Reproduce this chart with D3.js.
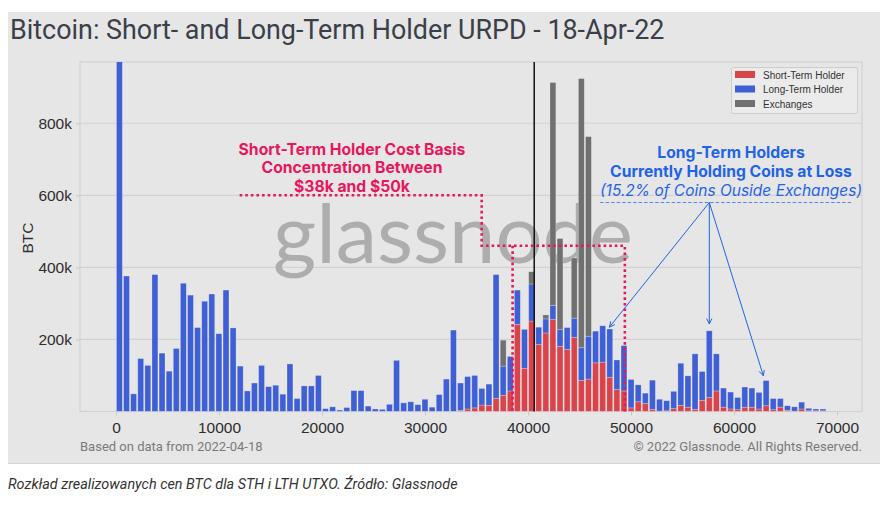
<!DOCTYPE html>
<html>
<head>
<meta charset="utf-8">
<script src="https://cdn.jsdelivr.net/npm/d3@7"></script>
<style>
  html, body { margin: 0; padding: 0; background: #ffffff; }
  svg { display: block; }
</style>
</head>
<body>
<svg id="chart" width="886" height="507"></svg>
<script>
// ---------- DATA (BTC, thousands) ----------
const binWidth = 690;                       // USD per price bucket
const priceBins = d3.range(0, 69000, binWidth); // 100 bucket starts
const sth = [0,0,0,0,0,0,0,0,0,0, 0,0,0,0,0,0,0,0,0,0,
  0,0,0,0,0,0,0,0,0,0, 0,0,0,0,0,0,0,0,0,0,
  0,0,0,0,0,0,0,0,3,7, 10,18,17,36,45,57,242,120,251,186,
  218,255,181,172,206,86,90,135,137,95, 61,57,10,27,22,6,1,2,8,17,
  12,6,31,39,57,12,7,5,12,12, 7,16,5,12,3,1,7,2,2,2];
const lth = [990,376,49,147,128,380,162,112,175,356, 323,233,306,326,216,337,232,126,57,79,
  128,69,73,48,132,36,71,71,100,8, 13,4,11,58,58,15,7,6,20,142,
  24,27,19,34,12,47,90,226,76,90, 90,46,59,344,81,96,95,108,103,48,
  39,39,46,61,53,91,119,88,101,134, 82,126,79,47,29,81,33,28,48,117,
  87,154,80,185,103,53,47,34,56,53, 46,70,31,24,13,12,19,7,5,5];
const exch = [0,0,0,0,0,0,0,0,0,0, 0,0,0,0,0,0,0,0,0,0,
  0,0,0,0,0,0,0,0,0,0, 0,0,0,0,0,0,0,0,0,0,
  0,0,0,0,0,0,0,0,0,0, 0,0,0,0,72,0,0,0,34,0,
  11,619,253,0,167,747,554,0,0,0, 0,0,0,0,0,0,0,0,0,0,
  0,0,0,0,0,0,0,0,0,0, 0,0,0,0,0,0,0,0,0,0];
const seriesNames = ["Short-Term Holder", "Long-Term Holder", "Exchanges"];
const seriesColors = ["#d9434a", "#3f5fd5", "#707070"];
const xTicks = [0, 10000, 20000, 30000, 40000, 50000, 60000, 70000];
const yTicks = [200, 400, 600, 800];
const currentPrice = 40600;
const sthBand = {left: 12000, step: 35500, lo: 38500, hi: 49400, top: 600, mid: 460};
const lthArrow = {from: [57600, 580], to: [[47900, 234], [57600, 243], [62850, 99]], lineFrom: 47000, lineTo: 71500};

// ---------- LAYOUT ----------
const svg = d3.select("#chart");
const plot = {left: 80, right: 862, top: 62, bottom: 411.5};
const tickFont = "'Liberation Sans', Arial, sans-serif";

const x = d3.scaleLinear().domain([-3500, 72425]).range([plot.left, plot.right]);
const y = d3.scaleLinear().domain([0, 970]).range([plot.bottom, plot.top]);

// panel background
svg.append("rect").attr("x", 8).attr("y", 12).attr("width", 872).attr("height", 451)
  .attr("fill", "#e6e6e6");
svg.append("line").attr("x1", 8).attr("x2", 880).attr("y1", 463.5).attr("y2", 463.5)
  .attr("stroke", "#d6d6d6").attr("stroke-width", 1);

// title
svg.append("text").attr("x", 10).attr("y", 39)
  .attr("font-family", "Roboto, sans-serif").attr("font-size", 26.9)
  .attr("fill", "#3b3f48").text("Bitcoin: Short- and Long-Term Holder URPD - 18-Apr-22");

// plot frame
svg.append("rect").attr("x", plot.left).attr("y", plot.top)
  .attr("width", plot.right - plot.left).attr("height", plot.bottom - plot.top)
  .attr("fill", "#e6e6e6").attr("stroke", "#d2d2d2").attr("stroke-width", 1.2);

// grid
svg.append("g").selectAll("line").data(yTicks).join("line")
  .attr("x1", plot.left).attr("x2", plot.right)
  .attr("y1", d => y(d)).attr("y2", d => y(d))
  .attr("stroke", "#d2d2d2").attr("stroke-width", 1.2);

// watermark
svg.append("text").attr("x", 453).attr("y", 263).attr("text-anchor", "middle")
  .attr("font-family", "Lato, 'Open Sans', sans-serif").attr("font-size", 82)
  .attr("textLength", 360).attr("lengthAdjust", "spacingAndGlyphs")
  .attr("fill", "#adadad").text("glassnode");

// clip
svg.append("clipPath").attr("id", "clip").append("rect")
  .attr("x", plot.left).attr("y", plot.top)
  .attr("width", plot.right - plot.left).attr("height", plot.bottom - plot.top);

// stacked bars
const rows = priceBins.map((p, i) => ({price: p, sth: sth[i], lth: lth[i], exch: exch[i]}));
const stack = d3.stack().keys(["sth", "lth", "exch"])(rows);
const barG = svg.append("g").attr("clip-path", "url(#clip)");
stack.forEach((layer, k) => {
  barG.append("g").selectAll("rect").data(layer.filter(d => d[1] - d[0] > 0)).join("rect")
    .attr("x", d => x(d.data.price) + 0.4)
    .attr("width", x(binWidth) - x(0) - 1.2)
    .attr("y", d => y(d[1]))
    .attr("height", d => y(d[0]) - y(d[1]))
    .attr("fill", seriesColors[k])
    .attr("stroke", "rgba(255,255,255,0.35)").attr("stroke-width", 0.7);
});

// current price line
svg.append("line").attr("x1", x(currentPrice)).attr("x2", x(currentPrice))
  .attr("y1", plot.top).attr("y2", plot.bottom)
  .attr("stroke", "#111").attr("stroke-width", 1.5);

// STH band (pink dotted)
const pink = "#e8175d";
const dotted = (pts) => svg.append("path")
  .attr("d", d3.line()(pts))
  .attr("fill", "none").attr("stroke", pink).attr("stroke-width", 2.6)
  .attr("stroke-dasharray", "2.6 3");
dotted([[x(sthBand.left), y(sthBand.top)], [x(sthBand.step), y(sthBand.top)],
        [x(sthBand.step), y(sthBand.mid)], [x(sthBand.hi), y(sthBand.mid)], [x(sthBand.hi), y(0)]]);
dotted([[x(sthBand.lo), y(sthBand.mid)], [x(sthBand.lo), y(0)]]);

const pinkLines = ["Short-Term Holder Cost Basis", "Concentration Between", "$38k and $50k"];
svg.append("g").selectAll("text").data(pinkLines).join("text")
  .attr("x", 352).attr("y", (d, i) => 154.5 + i * 18.8).attr("text-anchor", "middle")
  .attr("font-family", "Inter, sans-serif").attr("font-weight", 700).attr("font-size", 15.7)
  .attr("fill", pink).text(d => d);

// LTH annotation (blue)
const blue = "#1f63e6";
const blueLines = ["Long-Term Holders", "Currently Holding Coins at Loss"];
svg.append("g").selectAll("text").data(blueLines).join("text")
  .attr("x", 731).attr("y", (d, i) => 157.5 + i * 19.3).attr("text-anchor", "middle")
  .attr("font-family", "Inter, sans-serif").attr("font-weight", 700).attr("font-size", 15.7)
  .attr("fill", blue).text(d => d);
svg.append("text").attr("x", 731).attr("y", 195.5).attr("text-anchor", "middle")
  .attr("font-family", "Inter, sans-serif").attr("font-style", "italic").attr("font-size", 15.5)
  .attr("fill", blue).text("(15.2% of Coins Ouside Exchanges)");
svg.append("line").attr("x1", x(lthArrow.lineFrom)).attr("x2", x(lthArrow.lineTo))
  .attr("y1", y(lthArrow.from[1])).attr("y2", y(lthArrow.from[1]))
  .attr("stroke", "#5a86ea").attr("stroke-width", 1).attr("stroke-dasharray", "3.5 2");
const ax0 = x(lthArrow.from[0]), ay0 = y(lthArrow.from[1]);
lthArrow.to.forEach(([tx, ty]) => {
  const x1 = x(tx), y1 = y(ty);
  svg.append("line").attr("x1", ax0).attr("y1", ay0).attr("x2", x1).attr("y2", y1)
    .attr("stroke", blue).attr("stroke-width", 1);
  const ang = Math.atan2(y1 - ay0, x1 - ax0), L = 6, a = 0.45;
  svg.append("path")
    .attr("d", d3.line()([[x1 - L * Math.cos(ang - a), y1 - L * Math.sin(ang - a)], [x1, y1],
                          [x1 - L * Math.cos(ang + a), y1 - L * Math.sin(ang + a)]]))
    .attr("fill", "none").attr("stroke", blue).attr("stroke-width", 1);
});

// axes
const xAxis = svg.append("g").attr("transform", `translate(0,${plot.bottom})`)
  .call(d3.axisBottom(x).tickValues(xTicks).tickFormat(d3.format("d")).tickSize(4).tickPadding(6));
const yAxis = svg.append("g").attr("transform", `translate(${plot.left},0)`)
  .call(d3.axisLeft(y).tickValues(yTicks).tickFormat(d => d + "k").tickSize(4).tickPadding(4));
[xAxis, yAxis].forEach(g => {
  g.select(".domain").remove();
  g.selectAll(".tick line").attr("stroke", "#c8c8c8");
  g.selectAll("text").attr("font-family", tickFont).attr("font-size", 15.5).attr("fill", "#2e2e2e");
});
svg.append("text").attr("transform", "translate(32.5,238) rotate(-90)").attr("text-anchor", "middle")
  .attr("font-family", tickFont).attr("font-size", 15.5).attr("fill", "#2e2e2e").text("BTC");

// legend
const lg = svg.append("g");
lg.append("rect").attr("x", 731.5).attr("y", 67.5).attr("width", 126).attr("height", 46).attr("rx", 2)
  .attr("fill", "#ebebeb").attr("stroke", "#cdcdcd");
seriesNames.forEach((n, i) => {
  lg.append("rect").attr("x", 735).attr("y", 71 + i * 14.5).attr("width", 20).attr("height", 7)
    .attr("fill", seriesColors[i]);
  lg.append("text").attr("x", 763).attr("y", 78.5 + i * 14.5)
    .attr("font-family", tickFont).attr("font-size", 10).attr("fill", "#333").text(n);
});

// footer
svg.append("text").attr("x", 80).attr("y", 451)
  .attr("font-family", "Roboto, sans-serif").attr("font-size", 13).attr("fill", "#7a7a7a")
  .text("Based on data from 2022-04-18");
svg.append("text").attr("x", 862).attr("y", 451).attr("text-anchor", "end")
  .attr("font-family", "Roboto, sans-serif").attr("font-size", 13).attr("fill", "#7a7a7a")
  .text("© 2022 Glassnode. All Rights Reserved.");

// caption
svg.append("text").attr("x", 8).attr("y", 489)
  .attr("font-family", "Roboto, sans-serif").attr("font-style", "italic").attr("font-size", 14.4)
  .attr("fill", "#333").text("Rozkład zrealizowanych cen BTC dla STH i LTH UTXO. Źródło: Glassnode");
</script>
</body>
</html>
